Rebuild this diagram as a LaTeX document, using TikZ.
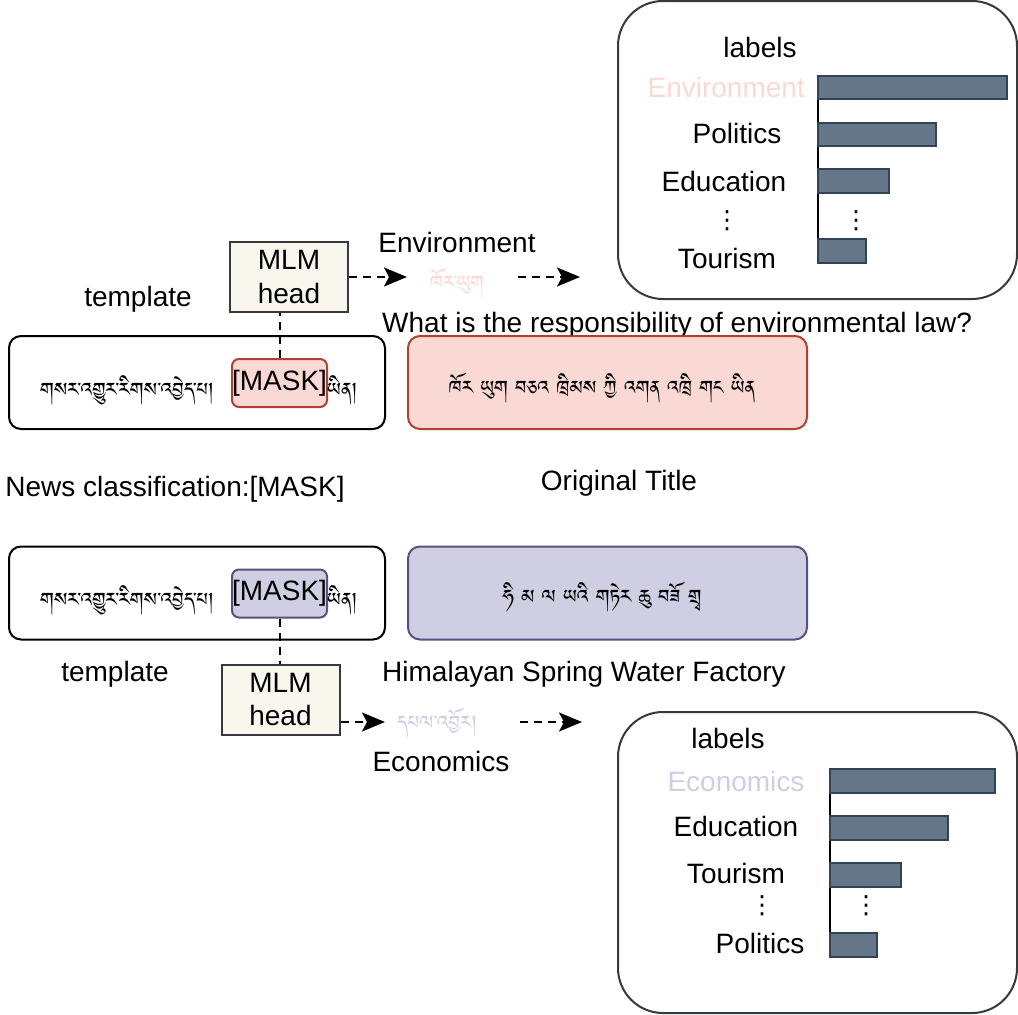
\documentclass[tikz,border=0pt]{standalone}
\usepackage{fontspec}
\setmainfont{Liberation Sans}
\newfontfamily\symfont{DejaVu Sans}
\usetikzlibrary{arrows.meta}
\IfFontExistsTF{Tibetan Machine Uni}{\newfontfamily\tibfont[Script=Tibetan]{Tibetan Machine Uni}}{%
 \IfFontExistsTF{Jomolhari}{\newfontfamily\tibfont[Script=Tibetan]{Jomolhari}}{%
  \IfFontExistsTF{DDC Uchen}{\newfontfamily\tibfont[Script=Tibetan]{DDC Uchen}}{%
   \newcommand\tibfont{}}}}
\definecolor{redfill}{HTML}{FAD9D5}
\definecolor{redline}{HTML}{AE4132}
\definecolor{purfill}{HTML}{D0CEE2}
\definecolor{purline}{HTML}{56517E}
\definecolor{headfill}{HTML}{F9F7ED}
\definecolor{headline}{HTML}{36393D}
\definecolor{barfill}{HTML}{647687}
\definecolor{barline}{HTML}{314354}
\tikzset{
  txt/.style={inner sep=0pt, font=\fontsize{28}{32}\selectfont},
  dots/.style={inner sep=0pt, font=\symfont\fontsize{25}{27}\selectfont},
  tib/.style={inner sep=0pt, font=\tibfont\fontsize{24.5}{28}\selectfont},
  tplbox/.style={draw=black, line width=2pt, rounded corners=12pt, minimum width=376pt, minimum height=93pt, inner sep=0pt},
  titlebox/.style={line width=2pt, rounded corners=12pt, minimum width=399pt, minimum height=93pt, inner sep=0pt},
  maskbox/.style={line width=2pt, rounded corners=7pt, minimum width=95pt, minimum height=48pt, inner sep=0pt, font=\fontsize{28}{32}\selectfont},
  headbox/.style={draw=headline, fill=headfill, line width=2pt, minimum width=118pt, minimum height=70pt, inner sep=0pt, align=center, font=\fontsize{28}{33}\selectfont},
  chartbox/.style={draw=headline, line width=2pt, rounded corners=45pt},
  bar/.style={draw=barline, fill=barfill, line width=2pt},
  axis/.style={draw=black, line width=2pt},
  dasharr/.style={draw=black, line width=2pt, dash pattern=on 8pt off 6pt, -{Stealth[length=23pt,width=19pt,inset=5pt]}},
  dashln/.style={draw=black, line width=2pt, dash pattern=on 8pt off 6pt},
}
\begin{document}
\begin{tikzpicture}[x=1pt,y=-1pt]
\useasboundingbox (0,0) rectangle (1018,1015);

% ---------- top chart ----------
\draw[chartbox] (618,1) rectangle (1017,299);
\node[txt] (lab1) at (760,47) {labels};
\node[txt, text=redfill, anchor=east] (e1) at (805,87) {Environment};
\node[txt] (p1) at (737,133) {Politics};
\node[txt] (ed1) at (724,181) {Education};
\node[dots] (vd1) at (727,221) {⋮};
\node[txt] (to1) at (727,258) {Tourism};
\draw[axis] (818,80) -- (818,255);
\draw[bar] (818,76) rectangle (1007,99);
\draw[bar] (818,123) rectangle (936,146);
\draw[bar] (818,169) rectangle (889,193);
\draw[bar] (818,239) rectangle (866,263);
\node[dots] (vd2) at (856,221) {⋮};

% ---------- top flow ----------
\node[headbox] (h1) at (289,277) {MLM\\head};
\node[txt] (envlab) at (457,242) {Environment};
\node[tib, text=redfill] (envtib) at (457,283) {ཁོར་ཡུག};
\coordinate (a1e) at (407,277);
\coordinate (a2s) at (518,277);
\coordinate (a2e) at (580,277);
\draw[dasharr] (h1.east) -- (a1e);
\draw[dasharr] (a2s) -- (a2e);
\node[txt] (tpl1) at (138,299) {template};
\node[txt, anchor=west] (q1) at (382,325) {What is the responsibility of environmental law?};

\node[tplbox] (t1) at (197,382.5) {};
\node[tib] (t1tx) at (127,390) {གསར་འགྱུར་རིགས་འབྱེད་པ།};
\node[maskbox, draw=redline, fill=redfill] (m1) at (279.5,383) {[MASK]};
\node[tib, anchor=west] (t1yin) at (327,390) {ཡིན།};
\draw[dashln] (m1.north) -- (m1.north |- h1.south);

\node[titlebox, draw=redline, fill=redfill] (o1) at (607.5,382.5) {};
\node[tib] (o1tx) at (602,388) {ཁོར ཡུག བཅའ ཁྲིམས ཀྱི འགན འཁྲི གང ཡིན};

\node[txt] (news) at (175,489) {News classification:[MASK]};
\node[txt] (orig) at (619,483) {Original Title};

% ---------- bottom flow ----------
\node[tplbox] (t2) at (197,593) {};
\node[tib] (t2tx) at (127,600) {གསར་འགྱུར་རིགས་འབྱེད་པ།};
\node[maskbox, draw=purline, fill=purfill] (m2) at (279.5,593.5) {[MASK]};
\node[tib, anchor=west] (t2yin) at (327,600) {ཡིན།};

\node[titlebox, draw=purline, fill=purfill] (o2) at (607.5,593) {};
\node[tib] (o2tx) at (602,597) {ཧི མ ལ ཡའི གཏེར ཆུ བཟོ གྲྭ};

\node[txt] (tpl2) at (115,674) {template};
\node[txt] (him) at (584,674) {Himalayan Spring Water Factory};
\node[headbox] (h2) at (280.5,699.5) {MLM\\head};
\draw[dashln] (m2.south) -- (m2.south |- h2.north);
\node[tib, text=purfill] (ecotib) at (437,723) {དཔལ་འབྱོར།};
\coordinate (b1e) at (385,722);
\coordinate (b2s) at (520,722);
\coordinate (b2e) at (582,722);
\draw[dasharr] (h2.east |- b1e) -- (b1e);
\draw[dasharr] (b2s) -- (b2e);
\node[txt] (ecolab) at (441,761) {Economics};

% ---------- bottom chart ----------
\draw[chartbox] (618,712) rectangle (1017,1013);
\node[txt] (lab2) at (728,738) {labels};
\node[txt, text=purfill] (e2) at (736,781) {Economics};
\node[txt] (ed2) at (736,826) {Education};
\node[txt] (to2) at (736,873) {Tourism};
\node[dots] (vd3) at (762,906) {⋮};
\node[txt] (p2) at (760,943) {Politics};
\draw[axis] (830,775) -- (830,950);
\draw[bar] (830,769) rectangle (995,793);
\draw[bar] (830,816) rectangle (948,840);
\draw[bar] (830,863) rectangle (901,887);
\draw[bar] (830,933) rectangle (877,957);
\node[dots] (vd4) at (866,906) {⋮};
\end{tikzpicture}
\end{document}
